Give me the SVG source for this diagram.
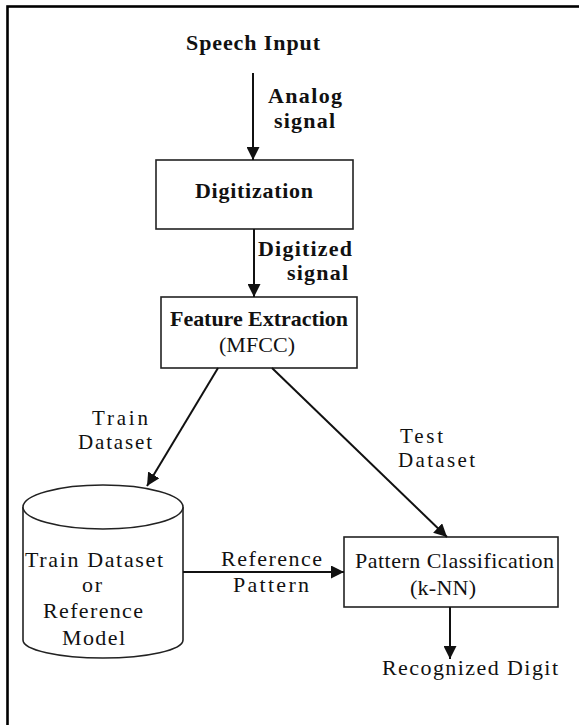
<svg xmlns="http://www.w3.org/2000/svg" width="579" height="725" viewBox="0 0 579 725">
  <style>
    text { font-family: "Liberation Serif", "Times New Roman", serif; font-size: 22px; fill: #111; }
    .b { font-weight: bold; }
    .lbl { font-size: 21px; }
    .box { fill: #fff; stroke: #222; stroke-width: 1.6; }
    .conn { stroke: #111; stroke-width: 2; fill: none; marker-end: url(#arrow); }
  </style>
  <defs>
    <marker id="arrow" markerUnits="userSpaceOnUse" markerWidth="13" markerHeight="13" refX="13" refY="6.5" orient="auto">
      <path d="M0,0 L13,6.5 L0,13 Z" fill="#111"/>
    </marker>
  </defs>
  <rect width="579" height="725" fill="#fff"/>
  <rect id="frame" x="7.5" y="6.5" width="700" height="800" fill="none" stroke="#000" stroke-width="2.6"/>

  <g id="speech-input">
    <text class="b" x="186" y="50" textLength="134">Speech Input</text>
  </g>

  <g id="digitization">
    <rect class="box" x="156" y="160" width="197" height="69"/>
    <text class="b" x="195" y="198" textLength="118">Digitization</text>
  </g>

  <g id="feature-extraction">
    <rect class="box" x="161" y="297" width="196" height="71"/>
    <text class="b" x="170" y="326" textLength="178">Feature Extraction</text>
    <text x="219" y="352" textLength="76">(MFCC)</text>
  </g>

  <g id="train-dataset">
    <path class="box" d="M23,507 L23,640 A80,18 0 0 0 183,640 L183,507"/>
    <ellipse class="box" cx="103" cy="507" rx="80" ry="22"/>
    <text x="25" y="567" textLength="138">Train Dataset</text>
    <text x="82" y="592" textLength="20">or</text>
    <text x="43" y="618" textLength="100">Reference</text>
    <text x="62" y="645" textLength="63">Model</text>
  </g>

  <g id="pattern-classification">
    <rect class="box" x="344" y="537" width="214" height="70"/>
    <text x="355" y="568" textLength="199">Pattern Classification</text>
    <text x="410" y="595" textLength="66">(k-NN)</text>
  </g>

  <g id="recognized-digit">
    <text x="382" y="675" textLength="176">Recognized Digit</text>
  </g>

  <g id="connectors">
    <line class="conn" x1="253" y1="73" x2="253" y2="160"/>
    <line class="conn" x1="254" y1="229" x2="254" y2="297"/>
    <line class="conn" x1="218" y1="368" x2="147" y2="486"/>
    <line class="conn" x1="272" y1="368" x2="447" y2="537"/>
    <line class="conn" x1="183" y1="572" x2="344" y2="572"/>
    <line class="conn" x1="450" y1="607" x2="450" y2="659"/>
    <text class="b" x="268" y="103" textLength="74">Analog</text>
    <text class="b" x="274" y="128" textLength="61">signal</text>
    <text class="b" x="258" y="256" textLength="94">Digitized</text>
    <text class="b" x="287" y="280" textLength="61">signal</text>
    <text class="lbl" x="92" y="425" textLength="56">Train</text>
    <text class="lbl" x="78" y="449" textLength="74">Dataset</text>
    <text class="lbl" x="400" y="443" textLength="43">Test</text>
    <text class="lbl" x="398" y="467" textLength="77">Dataset</text>
    <text x="221" y="566" textLength="101">Reference</text>
    <text x="233" y="592" textLength="76">Pattern</text>
  </g>
</svg>
